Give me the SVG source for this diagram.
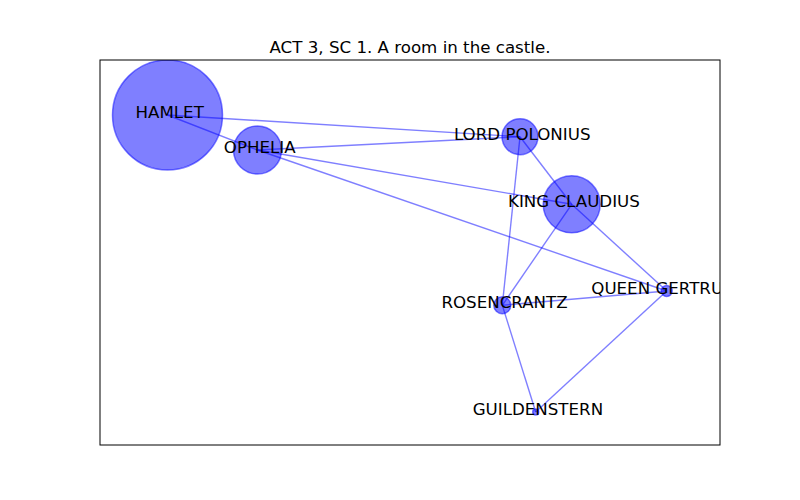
<svg xmlns="http://www.w3.org/2000/svg" width="800" height="500" viewBox="0 0 800 500">
<style>
  .edge { stroke: #0000ff; stroke-opacity: 0.5; stroke-width: 1.4; fill: none; }
  .node circle { fill: #0000ff; fill-opacity: 0.5; stroke: #0000ff; stroke-opacity: 0.5; stroke-width: 1.5; }
  .node text { font-family: "DejaVu Sans", sans-serif; font-size: 16.67px; fill: #000; text-anchor: middle; }
  .title { font-family: "DejaVu Sans", sans-serif; font-size: 16.67px; fill: #000; text-anchor: middle; }
</style>
<defs>
  <clipPath id="axclip"><rect x="100" y="60" width="620" height="385"/></clipPath>
</defs>
<rect x="0" y="0" width="800" height="500" fill="#ffffff"/>
<text class="title" x="410" y="53">ACT 3, SC 1. A room in the castle.</text>
<g clip-path="url(#axclip)">
<g id="edges">
  <line class="edge" x1="167.5" y1="115" x2="257.5" y2="150"/>
  <line class="edge" x1="167.5" y1="115" x2="520" y2="136.7"/>
  <line class="edge" x1="257.5" y1="150" x2="520" y2="136.7"/>
  <line class="edge" x1="257.5" y1="150" x2="571.7" y2="204.3"/>
  <line class="edge" x1="257.5" y1="150" x2="666.7" y2="291"/>
  <line class="edge" x1="520" y1="136.7" x2="571.7" y2="204.3"/>
  <line class="edge" x1="520" y1="136.7" x2="502.3" y2="305.3"/>
  <line class="edge" x1="571.7" y1="204.3" x2="502.3" y2="305.3"/>
  <line class="edge" x1="571.7" y1="204.3" x2="666.7" y2="291"/>
  <line class="edge" x1="502.3" y1="305.3" x2="666.7" y2="291"/>
  <line class="edge" x1="502.3" y1="305.3" x2="535.7" y2="412"/>
  <line class="edge" x1="666.7" y1="291" x2="535.7" y2="412"/>
</g>
<g id="node-hamlet" class="node"><circle cx="167.5" cy="115" r="55"/><text x="169.7" y="117.8">HAMLET</text></g>
<g id="node-ophelia" class="node"><circle cx="257.5" cy="150" r="24"/><text x="259.7" y="152.8">OPHELIA</text></g>
<g id="node-polonius" class="node"><circle cx="520" cy="136.7" r="18"/><text x="522.2" y="139.5">LORD POLONIUS</text></g>
<g id="node-claudius" class="node"><circle cx="571.7" cy="204.3" r="28.5"/><text x="573.9" y="207.1">KING CLAUDIUS</text></g>
<g id="node-rosencrantz" class="node"><circle cx="502.3" cy="305.3" r="8.5"/><text x="504.5" y="308.1">ROSENCRANTZ</text></g>
<g id="node-gertrude" class="node"><circle cx="666.7" cy="291" r="5.5"/><text x="668.9" y="293.8">QUEEN GERTRUDE</text></g>
<g id="node-guildenstern" class="node"><circle cx="535.7" cy="412" r="3"/><text x="537.9" y="414.8">GUILDENSTERN</text></g>
</g>
<rect x="100" y="60" width="620" height="385" fill="none" stroke="#000" stroke-width="1"/>
</svg>
